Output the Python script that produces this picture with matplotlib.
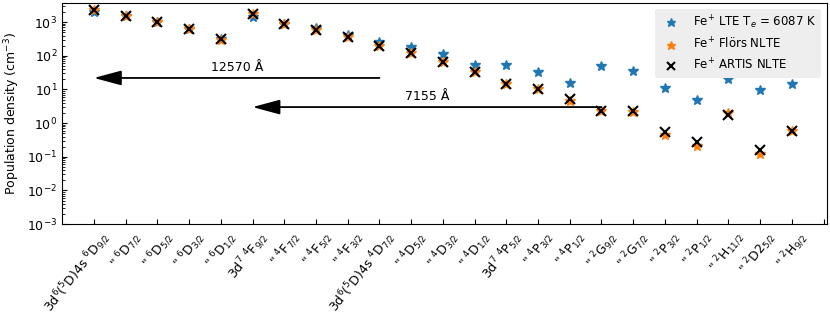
import numpy as np
import matplotlib.pyplot as plt
import matplotlib.transforms as mtransforms

# Fe+ level labels (ditto marks repeat the configuration above)
levels = [
    r'3d$^6$($^5$D)4s $^6$D$_{9/2}$',
    r'" $^6$D$_{7/2}$',
    r'" $^6$D$_{5/2}$',
    r'" $^6$D$_{3/2}$',
    r'" $^6$D$_{1/2}$',
    r'3d$^7$ $^4$F$_{9/2}$',
    r'" $^4$F$_{7/2}$',
    r'" $^4$F$_{5/2}$',
    r'" $^4$F$_{3/2}$',
    r'3d$^6$($^5$D)4s $^4$D$_{7/2}$',
    r'" $^4$D$_{5/2}$',
    r'" $^4$D$_{3/2}$',
    r'" $^4$D$_{1/2}$',
    r'3d$^7$ $^4$P$_{5/2}$',
    r'" $^4$P$_{3/2}$',
    r'" $^4$P$_{1/2}$',
    r'" $^2$G$_{9/2}$',
    r'" $^2$G$_{7/2}$',
    r'" $^2$P$_{3/2}$',
    r'" $^2$P$_{1/2}$',
    r'" $^2$H$_{11/2}$',
    r'" $^2$D2$_{5/2}$',
    r'" $^2$H$_{9/2}$',
    '',
]

# population densities (cm^-3)
lte = [2050, 1500, 1000, 640, 320, 1400, 900, 690, 420, 260, 178, 112, 52,
       52, 34, 16, 50, 35, 11, 4.9, 20.5, 9.7, 15]
flors = [2350, 1520, 1000, 620, 305, 1700, 890, 580, 355, 195, 118, 66, 32,
         15, 10, 4.6, 2.3, 2.1, 0.44, 0.21, 2.0, 0.12, 0.58]
artis = [2300, 1520, 1000, 630, 310, 1700, 900, 590, 360, 197, 120, 67, 32,
         15, 10, 5.2, 2.3, 2.3, 0.54, 0.27, 1.74, 0.16, 0.60]

# transitions: (upper level index, lower level index, y position, label)
transitions = [(9, 0, 22, '12570 Å'), (16, 5, 3.0, '7155 Å')]

x = np.arange(len(lte))

fig, ax = plt.subplots(figsize=(8.3, 3.32), dpi=100)
ax.plot(x, lte, '*', color='#1f77b4', ms=7, ls='none', label=r'Fe$^{+}$ LTE T$_{e}$ = 6087 K')
ax.plot(x, flors, '*', color='#ff7f0e', ms=7, ls='none', label=r'Fe$^{+}$ Flörs NLTE')
ax.plot(x, artis, 'x', color='black', ms=7, mew=1.5, ls='none', label=r'Fe$^{+}$ ARTIS NLTE')

for up, lo, yv, txt in transitions:
    ax.annotate('', xy=(lo, yv), xytext=(up, yv),
                arrowprops=dict(arrowstyle='-|>,head_length=1.3,head_width=0.35',
                                color='black', lw=1.3, shrinkA=0, shrinkB=0,
                                mutation_scale=13))
    ax.annotate(txt, xy=((up + lo) / 2, yv), xytext=(0, 3), textcoords='offset points',
                ha='center', va='bottom', fontsize=9)

ax.set_yscale('log')
ax.set_ylim(1e-3, 3.8e3)
ax.set_xlim(-1, 23.1)
ax.set_ylabel(r'Population density (cm$^{-3}$)', fontsize=9)
ax.set_xticks(np.arange(len(levels)))
ax.set_xticklabels(levels, rotation=52, ha='right', rotation_mode='anchor', fontsize=9)
ax.tick_params(direction='in', labelsize=9)
ax.tick_params(axis='x', labelsize=9)
ax.tick_params(which='minor', direction='in')

# nudge the rotated labels a little to the right, as in the original
shift = mtransforms.ScaledTranslation(4 / 72, 0, fig.dpi_scale_trans)
for lab in ax.get_xticklabels():
    lab.set_transform(lab.get_transform() + shift)

leg = ax.legend(loc='upper right', fontsize=8.5, frameon=True, facecolor='#eeeeee',
                edgecolor='none', framealpha=1, markerscale=0.9)

plt.subplots_adjust(left=0.075, right=0.996, top=0.992, bottom=0.325)
plt.savefig('out.png', dpi=100)
